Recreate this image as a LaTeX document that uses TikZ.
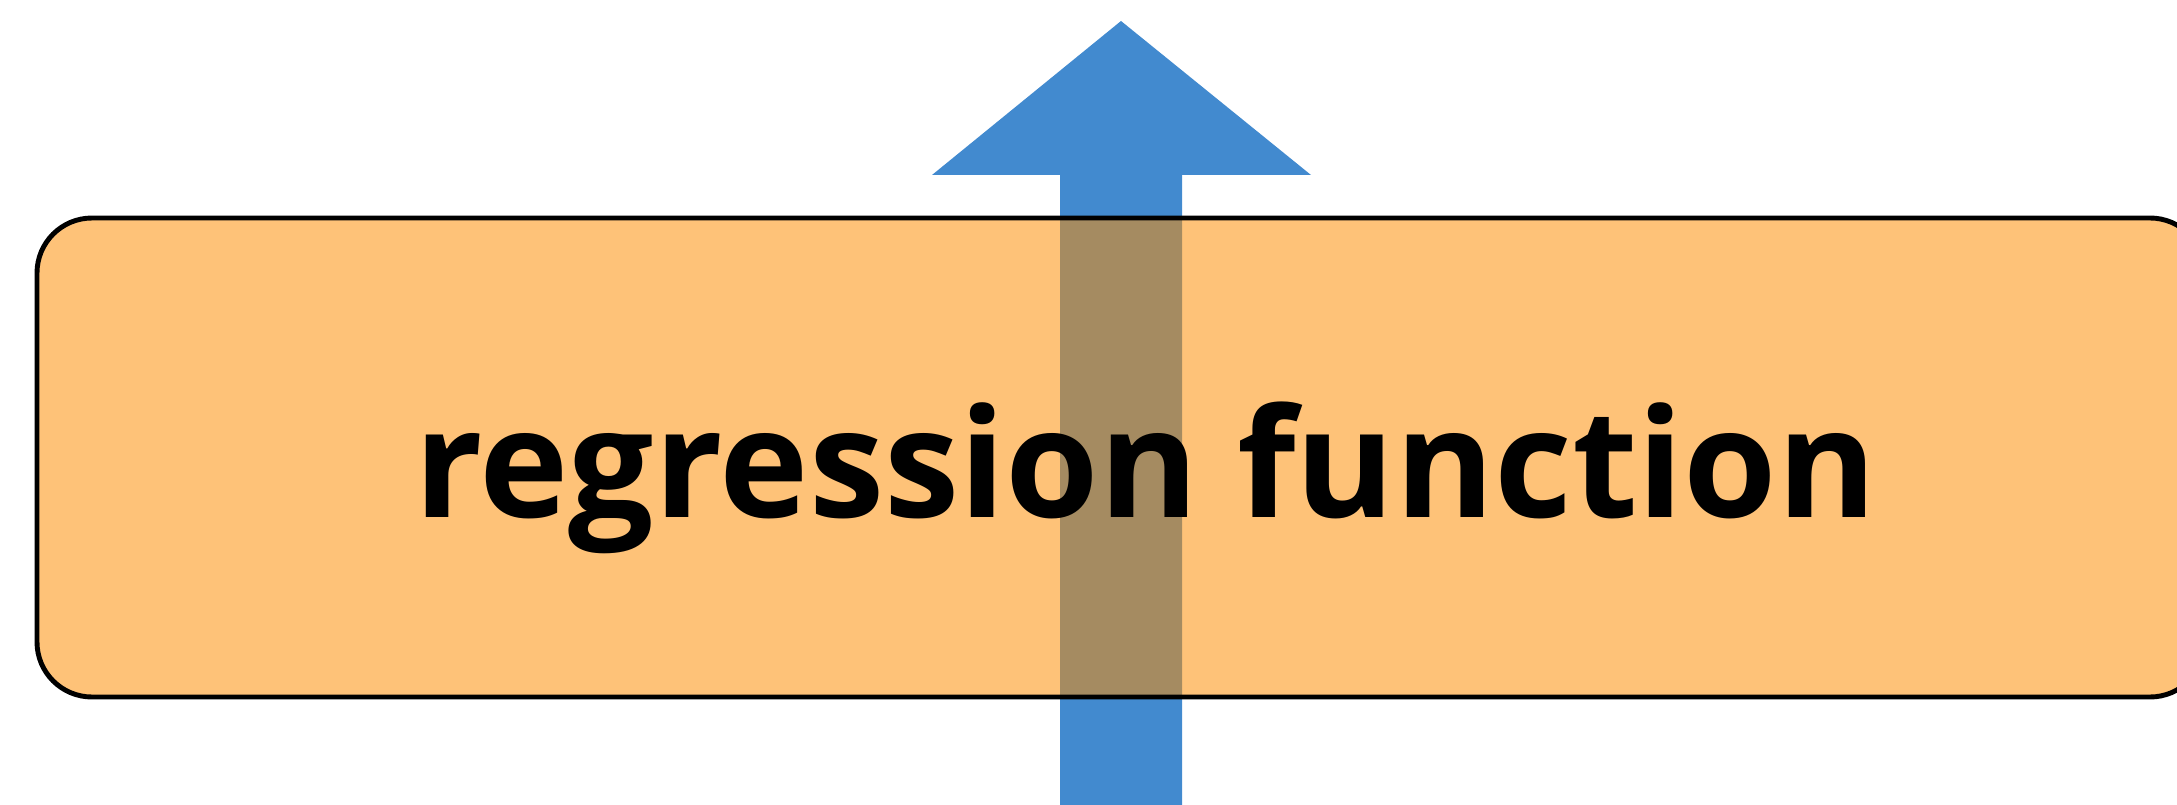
\documentclass[tikz,border=0pt]{standalone}
\usepackage{fontspec}
\setsansfont{Open Sans}
\usepackage{tikz}
\usetikzlibrary{positioning}
\definecolor{shaft}{HTML}{428ACF}
\definecolor{amber}{HTML}{FD8C00}
\definecolor{ink}{HTML}{000000}
\tikzset{
  uparrow/.style = {fill=shaft, draw=none},
  band/.style    = {draw=ink, line width=1.4pt, fill=amber, fill opacity=0.53, rounded corners=5.5mm},
  title/.style   = {font=\fontsize{43}{50}\selectfont\sffamily\bfseries\color{ink}, anchor=base west, inner sep=0pt, outer sep=0pt},
}
\begin{document}
\begin{tikzpicture}[x=0.1mm,y=0.1mm]
\path[use as bounding box] (0,0) rectangle (2177,804);

% ---- the arrow ----------------------------------------------------------
\coordinate (tip) at (1121,783);
\fill[uparrow] (tip) -- (1311,629) -- (1182,629) -- (1182,-20) -- (1060,-20) -- (1060,629) -- (932,629) -- cycle;

% ---- the band -----------------------------------------------------------
\draw[band] (37,107) rectangle (2205,586);
\node[title] (label) at (414,287) {regression function};

\end{tikzpicture}
\end{document}
